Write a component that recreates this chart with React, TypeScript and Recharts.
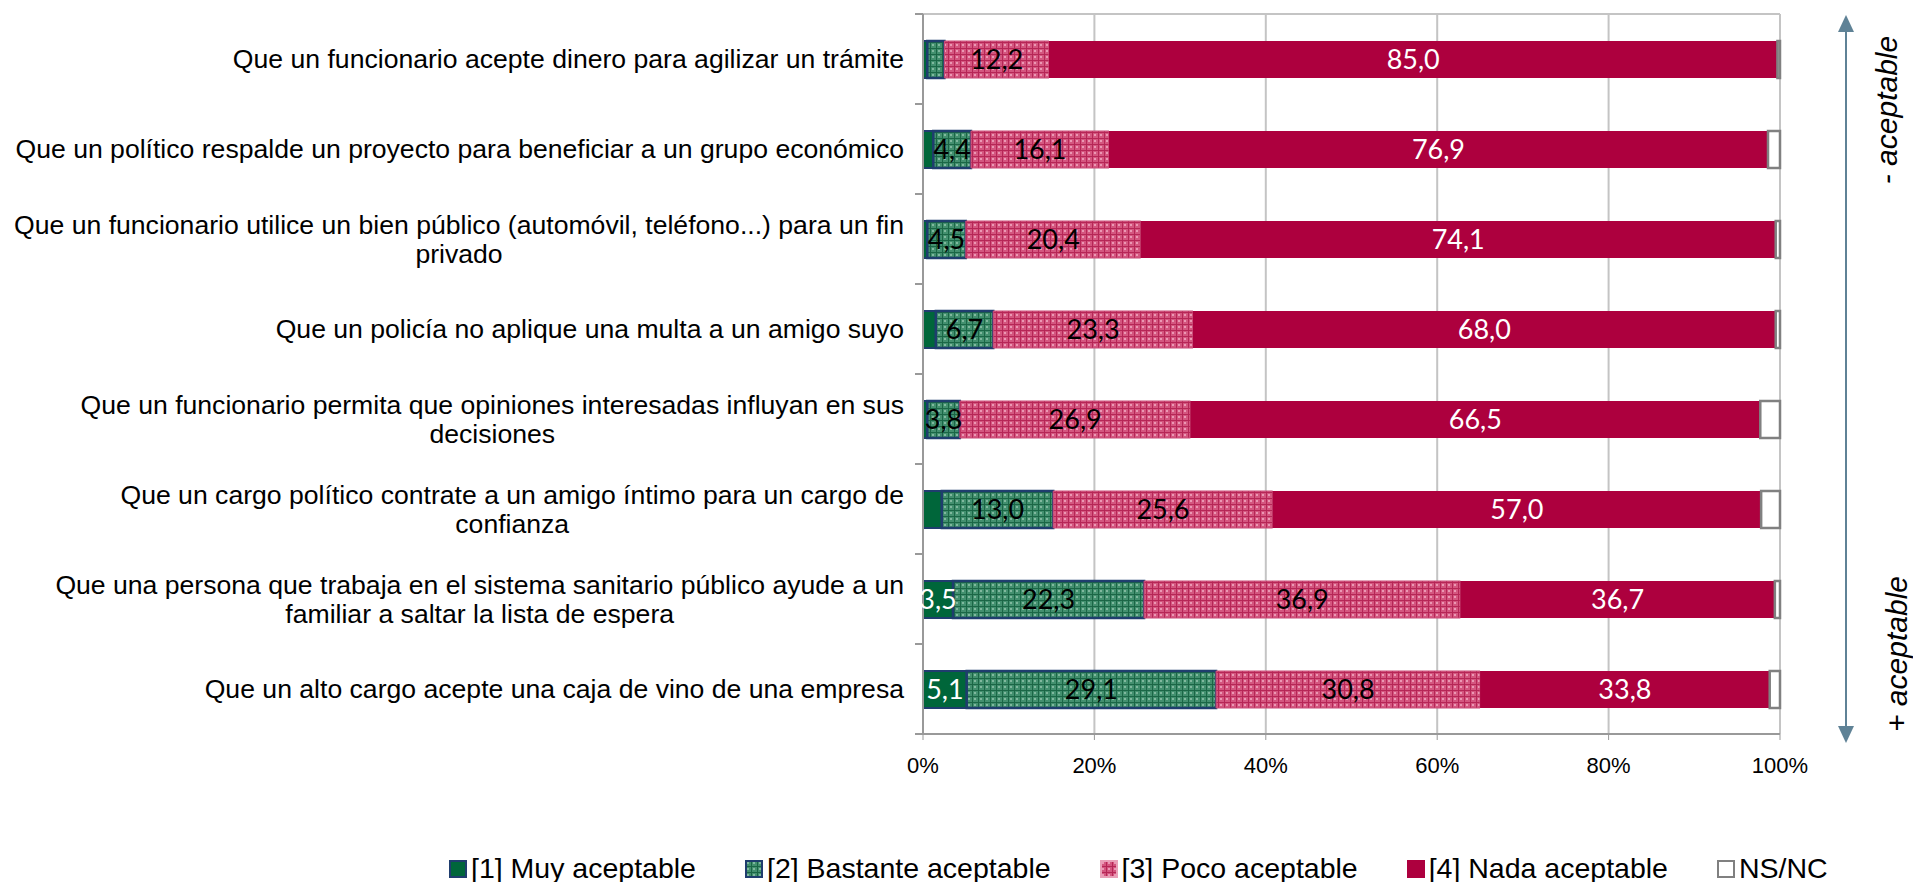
import React from 'react'
import {
  BarChart,
  Bar,
  XAxis,
  YAxis,
  CartesianGrid,
  LabelList,
} from 'recharts'

const categories = [
  'Que un funcionario acepte dinero para agilizar un trámite',
  'Que un político respalde un proyecto para beneficiar a un grupo económico',
  'Que un funcionario utilice un bien público (automóvil, teléfono...) para un fin\nprivado',
  'Que un policía no aplique una multa a un amigo suyo',
  'Que un funcionario permita que opiniones interesadas influyan en sus\ndecisiones',
  'Que un cargo político contrate a un amigo íntimo para un cargo de\nconfianza',
  'Que una persona que trabaja en el sistema sanitario público ayude a un\nfamiliar a saltar la lista de espera',
  'Que un alto cargo acepte una caja de vino de una empresa',
]

const muy = [0.5, 1.2, 0.5, 1.5, 0.5, 2.2, 3.5, 5.1]
const bastante = [2.0, 4.4, 4.5, 6.7, 3.8, 13.0, 22.3, 29.1]
const poco = [12.2, 16.1, 20.4, 23.3, 26.9, 25.6, 36.9, 30.8]
const nada = [85.0, 76.9, 74.1, 68.0, 66.5, 57.0, 36.7, 33.8]
const nsnc = [0.3, 1.4, 0.5, 0.5, 2.3, 2.2, 0.6, 1.2]

const xTicks = [0, 20, 40, 60, 80, 100]

const seriesNames = [
  '[1] Muy aceptable',
  '[2] Bastante aceptable',
  '[3] Poco aceptable',
  '[4] Nada aceptable',
  'NS/NC',
]

const data = categories.map((name, i) => ({
  name,
  muy: muy[i],
  bastante: bastante[i],
  poco: poco[i],
  nada: nada[i],
  nsnc: nsnc[i],
}))

const W = 1913
const H = 882
const CAT_FONT = '26.6px "Liberation Sans"'

let measureCtx: CanvasRenderingContext2D | null = null
function textWidth(s: string) {
  if (!measureCtx) {
    measureCtx = document.createElement('canvas').getContext('2d')
  }
  if (!measureCtx) return s.length * 13
  measureCtx.font = CAT_FONT
  return measureCtx.measureText(s).width
}

const fmt = (v: any) => {
  const n = Number(v)
  return n >= 3 ? n.toFixed(1).replace('.', ',') : ''
}

function CatTick(props: any) {
  const { x, y, payload, index } = props
  const lines = String(payload.value).split('\n')
  const half = payload.offset || 45
  const block = Math.max(...lines.map(textWidth))
  const lh = 28.5
  return (
    <g>
      {lines.map((ln: string, i: number) => (
        <text
          key={i}
          x={lines.length > 1 ? x - block / 2 : x}
          y={y + (i - (lines.length - 1) / 2) * lh}
          dy="0.35em"
          textAnchor={lines.length > 1 ? 'middle' : 'end'}
          fill="#000"
          style={{ font: CAT_FONT }}
        >
          {ln}
        </text>
      ))}
      {index === 0 && (
        <line x1={x + 11} x2={x + 19} y1={y - half} y2={y - half} stroke="#999" strokeWidth={2} />
      )}
      <line x1={x + 11} x2={x + 19} y1={y + half} y2={y + half} stroke="#999" strokeWidth={2} />
    </g>
  )
}

function Patterns({ prefix }: { prefix: string }) {
  return (
    <defs>
      <pattern id={`${prefix}-green`} width="6" height="6" patternUnits="userSpaceOnUse">
        <rect width="6" height="6" fill="#43906f" />
        <rect x="2" y="2" width="2" height="2" fill="#80b89e" />
        <rect width="6" height="1" fill="#1b6646" />
        <rect width="1" height="6" fill="#1b6646" />
      </pattern>
      <pattern id={`${prefix}-pink`} width="6" height="6" patternUnits="userSpaceOnUse">
        <rect width="6" height="6" fill="#d4567f" />
        <rect x="2" y="2" width="2" height="2" fill="#eb98b4" />
        <rect width="6" height="1" fill="#b62656" />
        <rect width="1" height="6" fill="#b62656" />
      </pattern>
    </defs>
  )
}

function Swatch({ i }: { i: number }) {
  const fills = ['#00663a', 'url(#lg-green)', 'url(#lg-pink)', '#ad003e', '#fff']
  const strokes = ['#1f3d6e', '#1f3d6e', '#e9a0b8', '#ad003e', '#808080']
  return (
    <svg width={18} height={18} style={{ display: 'block' }}>
      <Patterns prefix="lg" />
      <rect x={1} y={1} width={16} height={16} fill={fills[i]} stroke={strokes[i]} strokeWidth={2} />
    </svg>
  )
}

export default function App() {
  return (
    <div style={{ position: 'absolute', left: 0, top: 0, width: W, height: H, background: '#fff' }}>
      <BarChart
        width={W}
        height={H}
        data={data}
        layout="vertical"
        margin={{ top: 14, right: 133, bottom: 108, left: 0 }}
        barSize={37}
      >
        <Patterns prefix="ch" />
        <CartesianGrid
          stroke="#c4c4c4"
          strokeWidth={2}
          horizontalCoordinatesGenerator={(p: any) => [p.offset.top]}
        />
        <XAxis
          type="number"
          domain={[0, 100]}
          ticks={xTicks}
          tickFormatter={(v: number) => `${v}%`}
          height={40}
          tickSize={6}
          tickMargin={17}
          axisLine={{ stroke: '#999', strokeWidth: 2 }}
          tickLine={{ stroke: '#999', strokeWidth: 1 }}
          tick={{ fill: '#000', fontSize: 22, fontFamily: 'Liberation Sans' }}
        />
        <YAxis
          type="category"
          dataKey="name"
          width={923}
          tickSize={0}
          tickMargin={19}
          tickLine={false}
          axisLine={{ stroke: '#999', strokeWidth: 2 }}
          interval={0}
          tick={<CatTick />}
        />
        <Bar dataKey="muy" stackId="a" fill="#00663a" stroke="#1f3d6e" strokeWidth={2} isAnimationActive={false}>
          <LabelList dataKey="muy" position="center" formatter={fmt} fill="#fff" fontSize={27} fontFamily="Lato" />
        </Bar>
        <Bar dataKey="bastante" stackId="a" fill="url(#ch-green)" stroke="#1f3d6e" strokeWidth={2.5} isAnimationActive={false}>
          <LabelList dataKey="bastante" position="center" formatter={fmt} fill="#000" fontSize={27} fontFamily="Lato" />
        </Bar>
        <Bar dataKey="poco" stackId="a" fill="url(#ch-pink)" stroke="#c84a76" strokeWidth={1} isAnimationActive={false}>
          <LabelList dataKey="poco" position="center" formatter={fmt} fill="#000" fontSize={27} fontFamily="Lato" />
        </Bar>
        <Bar dataKey="nada" stackId="a" fill="#ad003e" isAnimationActive={false}>
          <LabelList dataKey="nada" position="center" formatter={fmt} fill="#fff" fontSize={27} fontFamily="Lato" />
        </Bar>
        <Bar dataKey="nsnc" stackId="a" fill="#ffffff" stroke="#808080" strokeWidth={2.5} isAnimationActive={false} />
      </BarChart>

      {/* arrow and side notes */}
      <svg width={W} height={H} style={{ position: 'absolute', left: 0, top: 0, pointerEvents: 'none' }}>
        <line x1={1846} x2={1846} y1={30} y2={726} stroke="#5f8296" strokeWidth={2} />
        <polygon points="1846,15 1838,32 1854,32" fill="#5f8296" />
        <polygon points="1846,743 1838,726 1854,726" fill="#5f8296" />
        <text
          transform="translate(1897,110) rotate(-90)"
          textAnchor="middle"
          style={{ font: 'italic 30px "Liberation Sans"' }}
          fill="#000"
        >
          - aceptable
        </text>
        <text
          transform="translate(1907,654) rotate(-90)"
          textAnchor="middle"
          style={{ font: 'italic 30px "Liberation Sans"' }}
          fill="#000"
        >
          + aceptable
        </text>
      </svg>

      <div
        style={{
          position: 'absolute',
          left: 449,
          top: 852,
          display: 'flex',
          alignItems: 'center',
          gap: 49,
          font: '28.5px "Liberation Sans"',
          color: '#000',
          whiteSpace: 'nowrap',
        }}
      >
        {seriesNames.map((s, i) => (
          <div key={s} style={{ display: 'flex', alignItems: 'center', gap: 4 }}>
            <Swatch i={i} />
            <span>{s}</span>
          </div>
        ))}
      </div>
    </div>
  )
}
